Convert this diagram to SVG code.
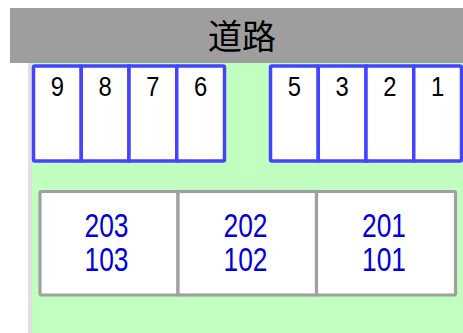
<svg xmlns="http://www.w3.org/2000/svg" width="463" height="333" viewBox="0 0 463 333">
<style>
.slot{fill:#ffffff;stroke:#4444ff;stroke-width:3.5}
.house{fill:#ffffff;stroke:#a0a0a0;stroke-width:3.2}
.num{font-family:"Liberation Sans","Noto Sans",sans-serif;font-size:28px;fill:#000000;text-anchor:middle}
.room{font-family:"Liberation Sans","Noto Sans",sans-serif;font-size:33px;fill:#0000dd;text-anchor:middle}
.road{font-family:"Noto Sans CJK JP","Noto Sans CJK SC",sans-serif;font-size:34px;fill:#000000;text-anchor:middle}
</style>
<rect x="0" y="0" width="463" height="333" fill="#ffffff"/>
<rect x="28" y="63" width="5" height="270" fill="#e0e0e0"/>
<rect x="32" y="63" width="431" height="270" fill="#c0ffc0"/>
<g id="road">
<rect x="10" y="8" width="453" height="55" fill="#9e9e9e"/>
<text class="road" x="242" y="49">道路</text>
</g>
<g id="parking-left">
<rect class="slot" x="33.5" y="66" width="47.75" height="95" rx="1.5"/>
<rect class="slot" x="81.25" y="66" width="47.75" height="95"/>
<rect class="slot" x="129" y="66" width="47.75" height="95"/>
<rect class="slot" x="176.75" y="66" width="47.75" height="95" rx="1.5"/>
<text class="num" transform="translate(57.4,96) scale(0.85,1)">9</text>
<text class="num" transform="translate(105.1,96) scale(0.85,1)">8</text>
<text class="num" transform="translate(152.9,96) scale(0.85,1)">7</text>
<text class="num" transform="translate(200.6,96) scale(0.85,1)">6</text>
</g>
<g id="parking-right">
<rect class="slot" x="270.5" y="66" width="47.75" height="95" rx="1.5"/>
<rect class="slot" x="318.25" y="66" width="47.75" height="95"/>
<rect class="slot" x="366" y="66" width="47.75" height="95"/>
<rect class="slot" x="413.75" y="66" width="47.75" height="95" rx="1.5"/>
<text class="num" transform="translate(294.4,96) scale(0.85,1)">5</text>
<text class="num" transform="translate(342.1,96) scale(0.85,1)">3</text>
<text class="num" transform="translate(389.9,96) scale(0.85,1)">2</text>
<text class="num" transform="translate(437.6,96) scale(0.85,1)">1</text>
</g>
<g id="house-203">
<rect class="house" x="40" y="191.5" width="138" height="103.5" rx="1.5"/>
<text class="room" transform="translate(106.5,237) scale(0.8,1)">203</text>
<text class="room" transform="translate(106.5,271) scale(0.8,1)">103</text>
</g>
<g id="house-202">
<rect class="house" x="178" y="191.5" width="138.5" height="103.5"/>
<text class="room" transform="translate(245.5,237) scale(0.8,1)">202</text>
<text class="room" transform="translate(245.5,271) scale(0.8,1)">102</text>
</g>
<g id="house-201">
<rect class="house" x="316.5" y="191.5" width="139" height="103.5" rx="1.5"/>
<text class="room" transform="translate(384,237) scale(0.8,1)">201</text>
<text class="room" transform="translate(384,271) scale(0.8,1)">101</text>
</g>
<g id="connectors"/>
</svg>
